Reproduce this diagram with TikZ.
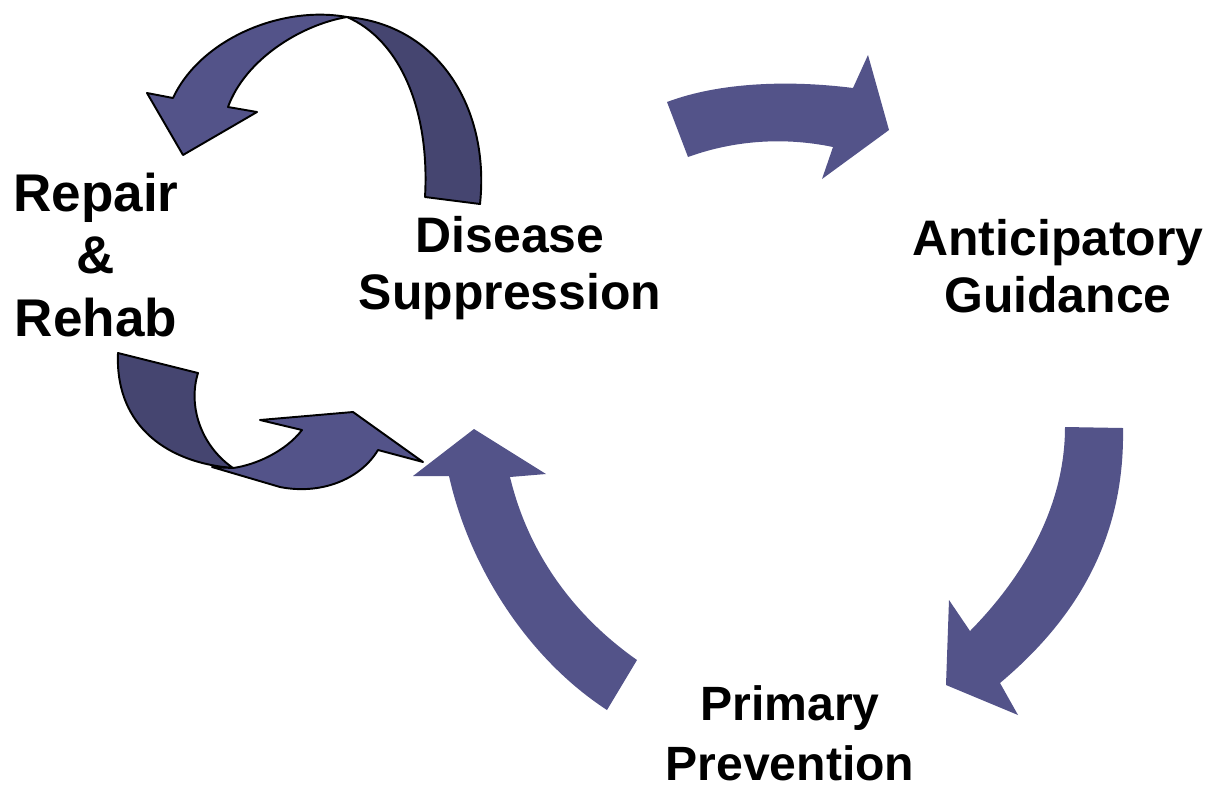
\documentclass[tikz,border=0pt]{standalone}
\usepackage{fontspec}
\setmainfont{Liberation Sans}
\usetikzlibrary{positioning}
\usetikzlibrary{calc}
\definecolor{seta}{RGB}{83,83,137}
\definecolor{setaescura}{RGB}{69,69,112}

\begin{document}
\begin{tikzpicture}[x=0.02cm, y=-0.02cm,
        texto/.style={align=center, inner sep=0pt, font=\bfseries\fontsize{28.4}{32.4}\selectfont},
        grande/.style={fill=seta, draw=none},
        fita/.style={fill=seta, draw=black, line width=1.1pt, line join=round},
        fitaescura/.style={fill=setaescura, draw=black, line width=1.1pt, line join=round}]
        \useasboundingbox (0,0) rectangle (1211,789);

        \node[texto] (suppression) at (510,268) {Disease\\Suppression};
        \node[texto] (guidance) at (1058,266) {Anticipatory\\Guidance};
        \node[texto, font=\bfseries\fontsize{27.4}{34}\selectfont] (prevention) at (790,733) {Primary\\Prevention};
        \node[texto, font=\bfseries\fontsize{30.2}{35.8}\selectfont] (repair) at (96,255) {Repair\\\&\\Rehab};

        % suppression -> guidance
        \fill[grande] (667,102) .. controls (720,82) and (790,80) .. (853,88) -- (868,55) -- (889,130)
            -- (822,179) -- (833,147) .. controls (785,137) and (735,140) .. (688,157) -- cycle;
        % guidance -> prevention
        \fill[grande] (1065,427) -- (1123,428) .. controls (1125,540) and (1075,620) .. (1000,683)
            -- (1018,715) -- (946,685) -- (949,600) -- (970,631) .. controls (1030,570) and (1065,500) .. (1065,427) -- cycle;
        % prevention -> suppression
        \fill[grande] (637,660) -- (607,710) .. controls (530,660) and (470,570) .. (449,476)
            -- (413,476) -- (474,429) -- (546,474) -- (510,477) .. controls (530,560) and (580,620) .. (637,660) -- cycle;

        % suppression -> repair (twisted)
        \coordinate (t1) at (347,17);
        \draw[fitaescura] (t1) .. controls (440,25) and (490,110) .. (480,204) -- (425,197)
            .. controls (430,110) and (400,40) .. (t1) -- cycle;
        \draw[fita] (t1) .. controls (300,25) and (245,60) .. (228,107) -- (257,112) -- (183,155)
            -- (147,93) -- (173,98) .. controls (200,40) and (280,5) .. (t1) -- cycle;

        % repair -> suppression (twisted)
        \coordinate (t2) at (233,468);
        \draw[fitaescura] (118,353) -- (198,373) .. controls (188,405) and (200,445) .. (t2)
            .. controls (160,462) and (115,420) .. (118,353) -- cycle;
        \draw[fita] (t2) .. controls (255,465) and (285,452) .. (302,430) -- (260,420) -- (353,412)
            -- (423,462) -- (378,450) .. controls (360,480) and (320,495) .. (280,487) -- (212,467) -- cycle;
\end{tikzpicture}
\end{document}
